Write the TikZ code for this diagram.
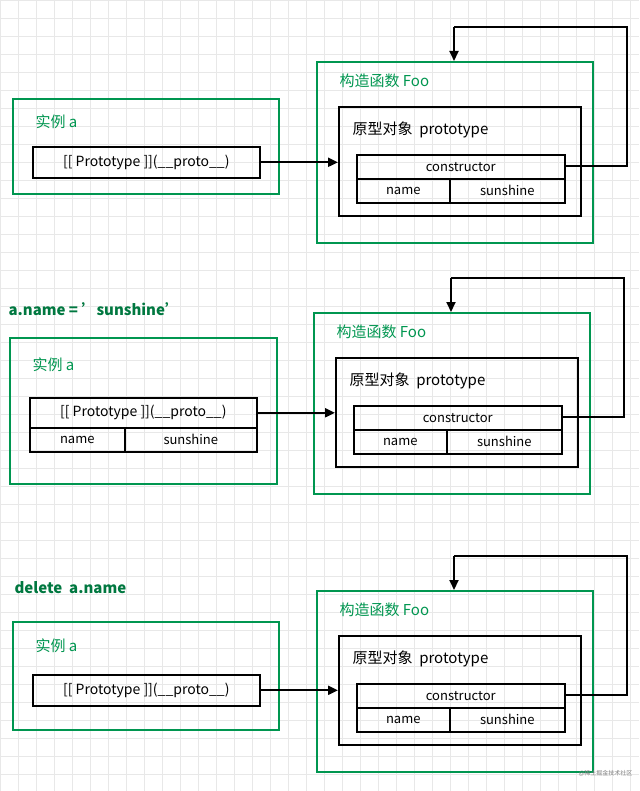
\documentclass[tikz,border=0pt]{standalone}
\usepackage{fontspec}
\setmainfont{Noto Sans CJK SC}
\usetikzlibrary{arrows.meta}
\definecolor{grn}{RGB}{0,150,80}
\definecolor{grd}{RGB}{232,232,232}
\tikzset{
  gbox/.style={draw=grn,line width=2pt,anchor=north west,inner sep=0pt},
  bbox/.style={draw=black,line width=2pt,anchor=north west,inner sep=0pt},
  cell/.style={draw=black,line width=1.6pt,anchor=north west,inner sep=0pt,font=\fontsize{13}{13}\selectfont},
  glab/.style={text=grn,anchor=west,font=\fontsize{15}{15}\selectfont},
  klab/.style={anchor=west,font=\fontsize{15}{15}\selectfont},
  conn/.style={line width=2pt,-{Triangle[length=10pt,width=9pt]}},
}
% #1 suffix, #2 dx, #3 dy (offsets relative to panel 1)
\newcommand\fooside[3]{%
  \begin{scope}[shift={(#2,#3)}]
  \node[gbox,minimum width=276pt,minimum height=181pt] (foo#1) at (316,61) {};
  \node[glab] (foolab#1) at (336,81) {构造函数 Foo};
  \node[bbox,minimum width=242pt,minimum height=109pt] (pro#1) at (338,106) {};
  \node[klab] (prolab#1) at (349,130) {原型对象~ prototype};
  \node[cell,minimum width=208pt,minimum height=24pt] (con#1) at (356,154) {constructor};
  \node[cell,minimum width=93pt,minimum height=24pt] (pn#1) at (356,178) {name};
  \node[cell,minimum width=115pt,minimum height=24pt] (pv#1) at (449,178) {sunshine};
  \coordinate (lr#1) at (627,166);
  \coordinate (lt#1) at (627,27);
  \coordinate (lf#1) at (454,27);
  \coordinate (ld#1) at (454,61);
  \end{scope}
  \draw[line width=2pt] (con#1.east|-lr#1) -- (lr#1) -- (lt#1) -- (lf#1);
  \draw[conn] (lf#1) -- (ld#1);
}
\begin{document}
\begin{tikzpicture}[x=1pt,y=-1pt]
\fill[white] (0,0) rectangle (639,791);
\useasboundingbox (0,0) rectangle (639,791);
\foreach \i in {0,...,35} {\draw[grd,line width=0.8pt] (\i*18,0) -- (\i*18,791);}
\foreach \i in {0,...,44} {\draw[grd,line width=0.8pt] (0,\i*18) -- (639,\i*18);}
% panel 1
\fooside{A}{0}{0}
\node[gbox,minimum width=266pt,minimum height=95pt] (ia) at (12,98) {};
\node[glab] (ialab) at (32,122) {实例 a};
\node[cell,minimum width=227pt,minimum height=31pt,font=\fontsize{14}{14}\selectfont] (pa) at (32,146) {[[ Prototype ]](\_\_proto\_\_)};
\draw[conn] (pa.east) -- (pa.east-|proA.west);
% panel 2
\node[anchor=west,font=\bfseries\fontsize{15}{15}\selectfont,text=grn!80!black] (t2) at (5,309) {a.name = 'sunshine'};
\fooside{B}{-3}{251}
\node[gbox,minimum width=267pt,minimum height=146pt] (ib) at (9,337) {};
\node[glab] (iblab) at (29,365) {实例 a};
\node[cell,minimum width=227pt,minimum height=30pt,font=\fontsize{14}{14}\selectfont] (pb) at (29,397) {[[ Prototype ]](\_\_proto\_\_)};
\node[cell,minimum width=95pt,minimum height=24pt] (bn) at (29,427) {name};
\node[cell,minimum width=132pt,minimum height=24pt] (bv) at (124,427) {sunshine};
\draw[conn] (pb.east) -- (pb.east-|proB.west);
% panel 3
\node[anchor=west,font=\bfseries\fontsize{15}{15}\selectfont,text=grn!80!black] (t3) at (11,588) {delete~ a.name};
\fooside{C}{0}{529}
\node[gbox,minimum width=266pt,minimum height=108pt] (ic) at (12,621) {};
\node[glab] (iclab) at (32,646) {实例 a};
\node[cell,minimum width=227pt,minimum height=31pt,font=\fontsize{14}{14}\selectfont] (pc) at (32,674) {[[ Prototype ]](\_\_proto\_\_)};
\draw[conn] (pc.east) -- (pc.east-|proC.west);
\node[anchor=east,text=gray,font=\fontsize{6}{6}\selectfont] (wm) at (636,773) {@稀土掘金技术社区};
\end{tikzpicture}
\end{document}
